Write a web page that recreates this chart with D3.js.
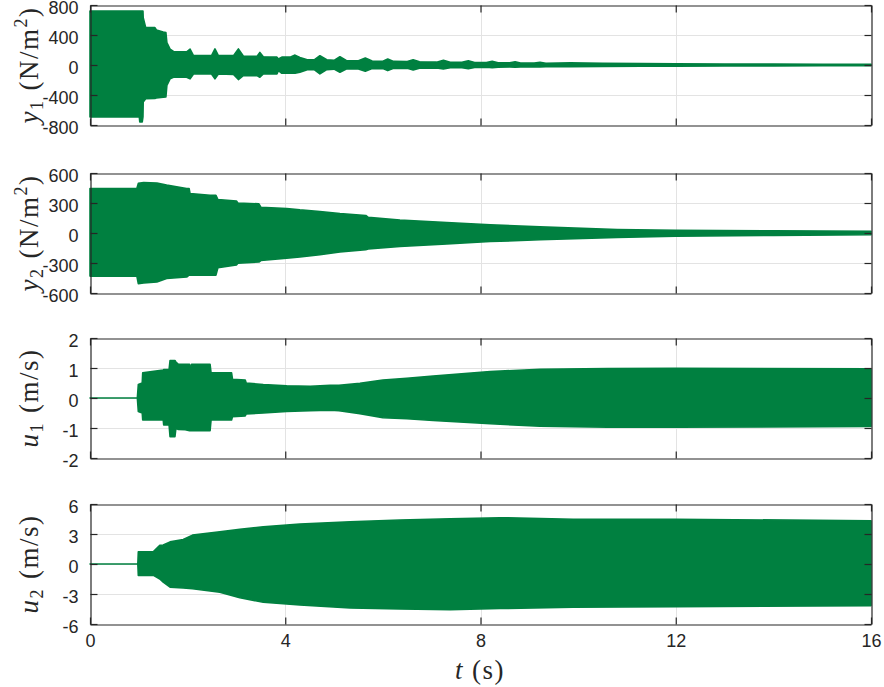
<!DOCTYPE html>
<html>
<head>
<meta charset="utf-8">
<script src="https://cdn.jsdelivr.net/npm/d3@7"></script>
<style>
  html, body { margin: 0; padding: 0; background: #fff; }
  svg { display: block; }
</style>
</head>
<body>
<svg id="chart" width="884" height="687"></svg>
<script>
// ---------------- DATA (envelopes of dense oscillating signals) ----------------
const xTicks = [0, 4, 8, 12, 16];

// y1 (N/m^2)
const y1Time  = [0, 1.01, 1.02, 1.07, 1.085, 1.09, 1.14, 1.33, 1.36, 1.50, 1.555, 1.575, 1.64, 1.71, 1.98, 2.05, 2.12, 2.49, 2.56, 2.63, 2.94, 3.04, 3.14, 3.42, 3.48, 3.55, 3.83, 3.86, 3.93, 4.10, 4.20, 4.30, 4.45, 4.60, 4.71, 4.85, 5.00, 5.12, 5.25, 5.50, 5.64, 5.78, 6.00, 6.10, 6.22, 6.50, 6.62, 6.75, 7.10, 7.24, 7.38, 7.62, 7.75, 7.88, 8.12, 8.24, 8.36, 8.60, 8.71, 8.82, 9.10, 9.22, 9.34, 9.84, 10.5, 11.3, 12, 13, 14, 15, 16];
const y1Upper = [718, 718, 718, 718, 718, 630, 500, 499, 467, 440, 432, 300, 212, 180, 175, 212, 125, 125, 215, 125, 125, 215, 120, 115, 168, 110, 105, 80, 105, 105, 132, 100, 70, 72, 123, 70, 62, 110, 60, 57, 93, 52, 50, 79, 48, 45, 70, 42, 38, 62, 36, 35, 57, 33, 32, 48, 30, 28, 44, 27, 25, 35, 24, 28, 22, 18, 16, 14, 12, 11, 10];
const y1Lower = [-692, -692, -758, -758, -692, -494, -450, -445, -440, -430, -427, -273, -185, -163, -163, -185, -119, -119, -185, -119, -125, -194, -141, -141, -163, -119, -119, -75, -110, -105, -110, -95, -62, -64, -119, -62, -55, -97, -53, -52, -84, -48, -46, -75, -45, -44, -66, -42, -38, -53, -36, -35, -48, -32, -30, -36, -28, -27, -31, -26, -24, -26, -22, -22, -20, -17, -15, -13, -12, -11, -10];
const y1Ticks = [-800, -400, 0, 400, 800];

// y2 (N/m^2)
const y2Time  = [0, 0.96, 0.99, 1.10, 1.37, 1.57, 1.98, 2.03, 2.05, 2.46, 2.58, 2.62, 3.00, 3.03, 3.46, 3.50, 4.03, 4.30, 4.71, 5.12, 5.65, 5.70, 6.35, 7.31, 8.20, 9.22, 10.8, 12, 14, 16];
const y2Upper = [445, 445, 496, 505, 500, 479, 445, 445, 394, 377, 377, 335, 320, 300, 292, 258, 245, 231, 215, 195, 175, 156, 129, 105, 82, 61, 35, 28, 22, 17];
const y2Lower = [-431, -431, -506, -500, -489, -455, -440, -421, -421, -421, -421, -347, -320, -303, -290, -275, -251, -240, -217, -190, -166, -160, -135, -109, -85, -68, -44, -32, -24, -17];
const y2Ticks = [-600, -300, 0, 300, 600];

// u1 (m/s)
const u1Time  = [0, 0.97, 0.99, 1.07, 1.08, 1.50, 1.51, 1.62, 1.64, 1.74, 1.76, 1.81, 1.95, 2.04, 2.05, 2.08, 2.46, 2.48, 2.90, 2.92, 3.18, 3.20, 3.55, 4.03, 4.51, 4.92, 5.10, 5.53, 6.00, 6.49, 7.03, 8.20, 9.22, 10.6, 12, 16];
const u1Upper = [0, 0, 0.45, 0.50, 0.84, 0.93, 0.95, 0.95, 1.25, 1.25, 1.20, 1.12, 1.12, 1.12, 0.90, 1.12, 1.12, 0.84, 0.84, 0.62, 0.60, 0.50, 0.45, 0.41, 0.39, 0.42, 0.42, 0.49, 0.60, 0.66, 0.73, 0.88, 0.96, 0.98, 0.99, 0.97];
const u1Lower = [0, 0, -0.45, -0.50, -0.73, -0.73, -0.90, -0.90, -1.29, -1.29, -1.01, -1.05, -1.06, -1.09, -1.09, -1.09, -1.09, -0.73, -0.73, -0.62, -0.60, -0.53, -0.50, -0.45, -0.42, -0.41, -0.42, -0.52, -0.66, -0.69, -0.75, -0.86, -0.94, -0.97, -0.97, -0.95];
const u1Ticks = [-2, -1, 0, 1, 2];

// u2 (m/s)
const u2Time  = [0, 0.98, 0.99, 1.30, 1.43, 1.50, 1.64, 1.91, 2.10, 2.66, 3.07, 3.55, 4.30, 5.33, 6.35, 7.38, 8.40, 9.90, 12, 16];
const u2Upper = [0, 0, 1.21, 1.25, 1.88, 1.90, 2.21, 2.45, 2.89, 3.22, 3.46, 3.72, 3.99, 4.23, 4.40, 4.53, 4.63, 4.47, 4.47, 4.33];
const u2Lower = [0, 0, -1.14, -1.14, -1.50, -1.81, -2.31, -2.40, -2.48, -2.82, -3.38, -3.82, -4.09, -4.39, -4.49, -4.56, -4.45, -4.33, -4.26, -4.16];
const u2Ticks = [-6, -3, 0, 3, 6];

// ---------------- LAYOUT ----------------
const svg = d3.select("#chart");
const plotLeft = 90, plotRight = 871;
const panelTops = [5, 173, 338, 504];
const panelH = 120;
const green = "#008040";
const axisColor = "#262626";
const gridColor = "#e3e3e3";
const tickLen = 7;

const x = d3.scaleLinear().domain([0, 16]).range([plotLeft, plotRight]);

const panels = [
  {time: y1Time, up: y1Upper, lo: y1Lower, ticks: y1Ticks, sym: "y", sub: "1", unit: "N/m", sup: "2"},
  {time: y2Time, up: y2Upper, lo: y2Lower, ticks: y2Ticks, sym: "y", sub: "2", unit: "N/m", sup: "2"},
  {time: u1Time, up: u1Upper, lo: u1Lower, ticks: u1Ticks, sym: "u", sub: "1", unit: "m/s", sup: null},
  {time: u2Time, up: u2Upper, lo: u2Lower, ticks: u2Ticks, sym: "u", sub: "2", unit: "m/s", sup: null}
];

panels.forEach((p, i) => {
  const top = panelTops[i], bottom = top + panelH;
  const y = d3.scaleLinear().domain([p.ticks[0], p.ticks[p.ticks.length - 1]]).range([bottom, top]);
  const g = svg.append("g");

  // grid
  g.append("g").selectAll("line.gy").data(p.ticks.slice(1, -1)).join("line")
    .attr("x1", plotLeft).attr("x2", plotRight)
    .attr("y1", d => Math.round(y(d)) + 0.5).attr("y2", d => Math.round(y(d)) + 0.5)
    .attr("stroke", gridColor).attr("stroke-width", 1);
  g.append("g").selectAll("line.gx").data(xTicks.slice(1, -1)).join("line")
    .attr("y1", top).attr("y2", bottom)
    .attr("x1", d => Math.round(x(d)) + 0.5).attr("x2", d => Math.round(x(d)) + 0.5)
    .attr("stroke", gridColor).attr("stroke-width", 1);

  // data envelope
  const rows = p.time.map((t, k) => ({t, up: p.up[k], lo: p.lo[k]}));
  const area = d3.area().x(d => x(d.t)).y0(d => y(d.lo)).y1(d => y(d.up));
  g.append("path").datum(rows).attr("d", area)
    .attr("fill", green).attr("stroke", green).attr("stroke-width", 1.6).attr("stroke-linejoin", "round");

  // axes
  const left = g.append("g").attr("transform", `translate(${plotLeft + 0.5},0)`)
    .call(d3.axisLeft(y).tickValues(p.ticks).tickSize(-tickLen).tickSizeOuter(0).tickPadding(12).tickFormat(d3.format("d")));
  const right = g.append("g").attr("transform", `translate(${plotRight + 0.5},0)`)
    .call(d3.axisRight(y).tickValues(p.ticks).tickSize(-tickLen).tickSizeOuter(0).tickFormat(""));
  const topAx = g.append("g").attr("transform", `translate(0,${top + 0.5})`)
    .call(d3.axisTop(x).tickValues(xTicks).tickSize(-tickLen).tickSizeOuter(0).tickFormat(""));
  const botAx = g.append("g").attr("transform", `translate(0,${bottom + 0.5})`)
    .call(d3.axisBottom(x).tickValues(xTicks).tickSize(-tickLen).tickSizeOuter(0).tickPadding(10)
      .tickFormat(i === panels.length - 1 ? d3.format("d") : ""));
  [left, right, topAx, botAx].forEach(a => {
    a.select(".domain").attr("stroke", axisColor).attr("stroke-width", 1.2);
    a.selectAll(".tick line").attr("stroke", axisColor).attr("stroke-width", 1.2);
    a.selectAll(".tick text").attr("fill", axisColor)
      .style("font-family", "'Liberation Sans', Arial, Helvetica, sans-serif").style("font-size", "18px");
  });
  left.selectAll(".tick text").attr("dy", "0.46em").text(d => d3.format("d")(d).replace("\u2212", "-"));
  botAx.selectAll(".tick text").text(d => i === panels.length - 1 ? d3.format("d")(d) : "");

  // y label
  const cy = (top + bottom) / 2;
  const lab = g.append("text")
    .attr("transform", `translate(38,${cy}) rotate(-90)`)
    .attr("text-anchor", "middle")
    .attr("fill", axisColor)
    .style("font-family", "'Liberation Serif', 'Times New Roman', serif")
    .style("font-size", "27px")
    .style("letter-spacing", "1.5px");
  lab.append("tspan").attr("font-style", "italic").text(p.sym);
  lab.append("tspan").attr("font-size", "18px").attr("dy", 5).text(p.sub);
  if (p.sup) {
    lab.append("tspan").attr("dy", -5).attr("dx", 9).text("(" + p.unit);
    lab.append("tspan").attr("font-size", "18px").attr("dy", -11).text(p.sup);
    lab.append("tspan").attr("dy", 11).text(")");
  } else {
    lab.append("tspan").attr("dy", -5).attr("dx", 9).text("(" + p.unit + ")");
  }
});

// x label
const xl = svg.append("text")
  .attr("x", 480).attr("y", 679)
  .attr("text-anchor", "middle")
  .attr("fill", axisColor)
  .style("font-family", "'Liberation Serif', 'Times New Roman', serif")
  .style("font-size", "27px")
  .style("letter-spacing", "1.5px");
xl.append("tspan").attr("font-style", "italic").text("t");
xl.append("tspan").attr("dx", 8).text("(s)");
</script>
</body>
</html>
